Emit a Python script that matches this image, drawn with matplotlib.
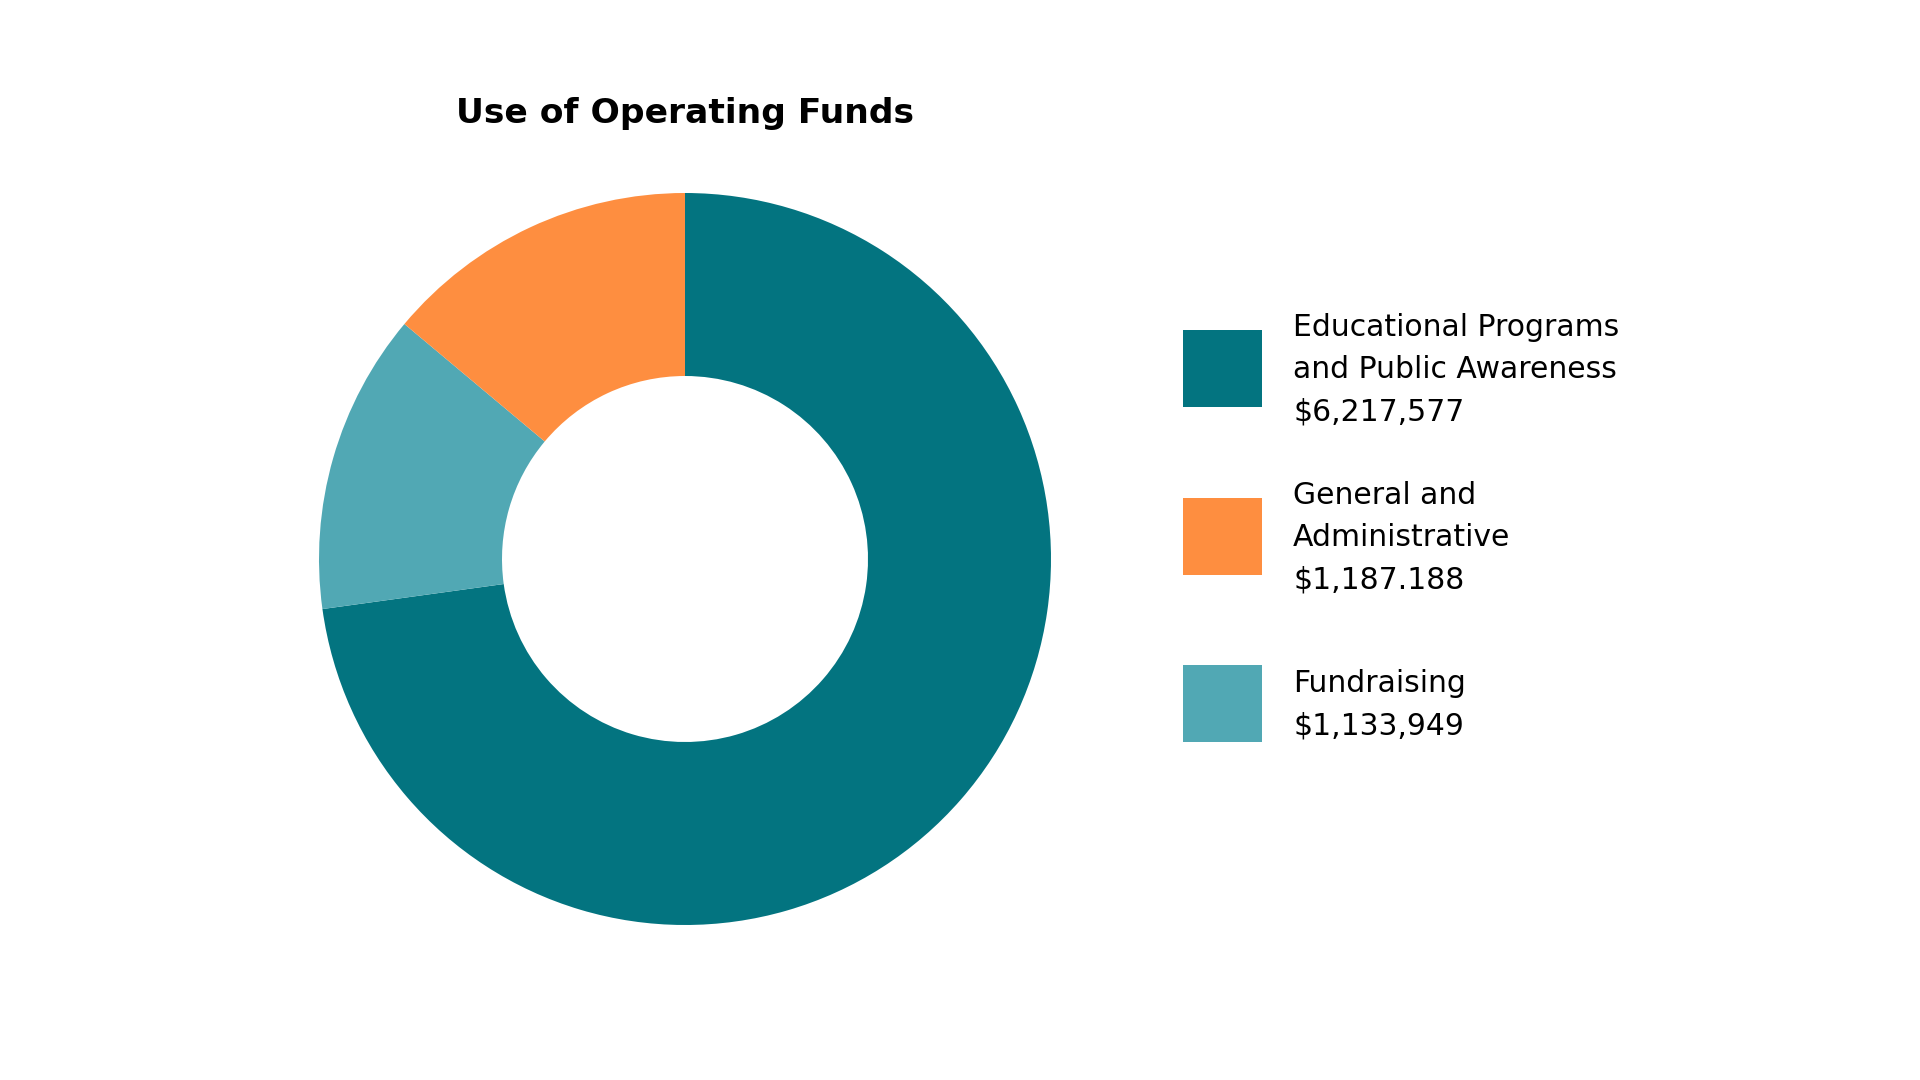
import numpy as np
import matplotlib
matplotlib.use("Agg")
import matplotlib.pyplot as plt
from matplotlib.patches import Rectangle

plt.rcParams['font.family'] = ['DejaVu Sans']

title = "Use of Operating Funds"
# pie order (clockwise from top)
pie_names = ["Educational Programs\nand Public Awareness", "Fundraising", "General and\nAdministrative"]
pie_values = [6217577, 1133949, 1187188]
pie_colors = ["#037480", "#51A8B4", "#FE8E40"]

# legend order
leg_names = ["Educational Programs\nand Public Awareness", "General and\nAdministrative", "Fundraising"]
leg_amounts = ["$6,217,577", "$1,187.188", "$1,133,949"]
leg_colors = ["#037480", "#FE8E40", "#51A8B4"]

W, H = 1920, 1080
fig = plt.figure(figsize=(W/100, H/100), dpi=100)

cx, cy, r = 685, 559, 366
ax = fig.add_axes([(cx-r)/W, (H-cy-r)/H, 2*r/W, 2*r/H])
ax.pie(pie_values, colors=pie_colors, startangle=90, counterclock=False,
       wedgeprops=dict(width=0.5, edgecolor='none'))
ax.set_xlim(-1, 1)
ax.set_ylim(-1, 1)
ax.set_aspect('equal')
ax.axis('off')

fig.text(cx/W, 1-113/H, title, ha='center', va='center', fontsize=24.8, fontweight='bold')

lax = fig.add_axes([0, 0, 1, 1])
lax.set_xlim(0, W)
lax.set_ylim(H, 0)
lax.axis('off')
ys = [368, 536, 703]
for y, name, amt, col in zip(ys, leg_names, leg_amounts, leg_colors):
    lax.add_patch(Rectangle((1183, y-38.5), 79, 77, color=col, lw=0))
    lax.text(1293, y+2, name + "\n" + amt, ha='left', va='center', fontsize=21.5,
             linespacing=1.57)

fig.savefig("out.png", dpi=100, facecolor='white')
